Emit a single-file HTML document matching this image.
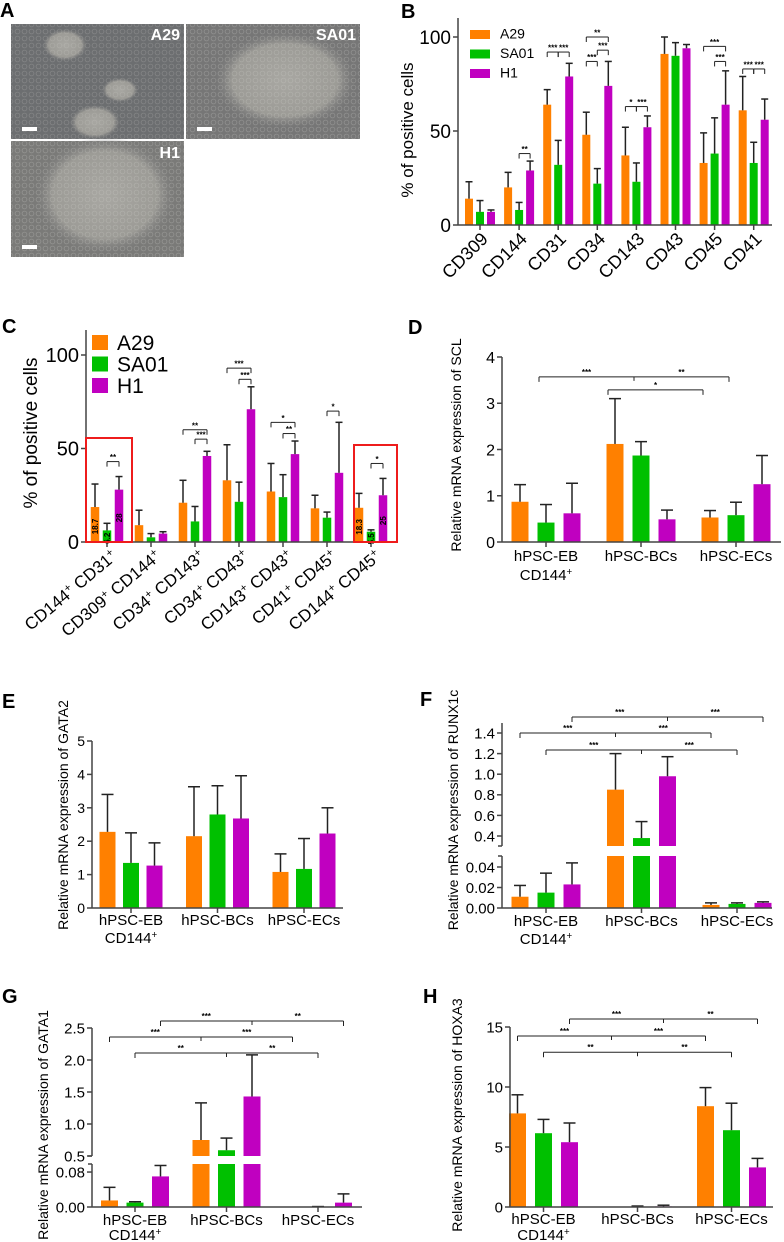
<!DOCTYPE html>
<html><head><meta charset="utf-8"><style>
html,body{margin:0;padding:0;background:#fff}
svg{display:block;font-family:"Liberation Sans",Arial,sans-serif}
</style></head><body>
<svg id="fig" width="784" height="1242" viewBox="0 0 784 1242" xmlns="http://www.w3.org/2000/svg">
<defs>
<radialGradient id="colony" cx="50%" cy="50%" r="50%"><stop offset="0" stop-color="#a8a7a2"/><stop offset="0.75" stop-color="#9c9b96"/><stop offset="1" stop-color="#808080" stop-opacity="0"/></radialGradient>
<pattern id="cells" width="7" height="7" patternUnits="userSpaceOnUse"><circle cx="3.5" cy="3.5" r="2.4" fill="none" stroke="#cfcec9" stroke-width="0.8" opacity="0.6"/></pattern>
</defs>
<g>
<text x="0" y="17" font-size="20" font-weight="bold">A</text>
<g>
<rect x="11" y="24" width="173" height="115" fill="#6c6e70"/>
<ellipse cx="65" cy="45" rx="22" ry="16" fill="url(#colony)"/><ellipse cx="120" cy="90" rx="18" ry="12" fill="url(#colony)"/><ellipse cx="95" cy="122" rx="25" ry="17" fill="url(#colony)"/>
<rect x="11" y="24" width="173" height="115" fill="url(#cells)" opacity="0.4"/>
<text x="180" y="40" font-size="16" font-weight="bold" fill="#fff" text-anchor="end">A29</text>
<rect x="22" y="127" width="15" height="4" fill="#fff"/></g>
<g>
<rect x="186" y="24" width="174" height="115" fill="#767676"/>
<ellipse cx="285" cy="80" rx="70" ry="48" fill="url(#colony)"/>
<rect x="186" y="24" width="174" height="115" fill="url(#cells)" opacity="0.5"/>
<text x="356" y="40" font-size="16" font-weight="bold" fill="#fff" text-anchor="end">SA01</text>
<rect x="197" y="127" width="15" height="4" fill="#fff"/></g>
<g>
<rect x="11" y="141" width="173" height="116" fill="#7a7a78"/>
<ellipse cx="105" cy="195" rx="70" ry="58" fill="url(#colony)"/>
<rect x="11" y="141" width="173" height="116" fill="url(#cells)" opacity="0.5"/>
<text x="180" y="158" font-size="16" font-weight="bold" fill="#fff" text-anchor="end">H1</text>
<rect x="22" y="245" width="15" height="4" fill="#fff"/></g>
</g>
</svg>
<script>
// ---------- DATA ----------
const bCats = ['CD309','CD144','CD31','CD34','CD143','CD43','CD45','CD41'];
const bA29 = [14,20,64,48,37,91,33,61];
const bSA01 = [7,8,32,22,23,90,38,33];
const bH1 = [7,29,79,74,52,94,64,56];
const bA29Err = [23,28,72,60,52,100,49,79];
const bSA01Err = [13,12,45,30,33,97,57,44];
const bH1Err = [8,34,86,87,58,96,82,67];
const bTicks = [0,50,100];

const cCats = [['CD144','CD31'],['CD309','CD144'],['CD34','CD143'],['CD34','CD43'],['CD143','CD43'],['CD41','CD45'],['CD144','CD45']];
const cA29 = [18.7,9,21,33,27,18,18.3];
const cSA01 = [6.2,2.5,11,21.5,24,13,5.5];
const cH1 = [28,4.5,46,71,47,37,25];
const cA29Err = [31,17,33,52,42,25,26];
const cSA01Err = [10,4.5,19,32,36,16,6.5];
const cH1Err = [35,5.5,48.5,83,54,64,34];
const cTicks = [0,50,100];

const qCats = ['hPSC-EB','hPSC-BCs','hPSC-ECs'];
const dA29 = [0.87,2.12,0.53], dSA01 = [0.42,1.87,0.58], dH1 = [0.62,0.49,1.25];
const dA29Err = [1.24,3.1,0.68], dSA01Err = [0.81,2.17,0.86], dH1Err = [1.27,0.69,1.87];
const dTicks = [0,1,2,3,4];

const eA29 = [2.28,2.15,1.08], eSA01 = [1.35,2.8,1.17], eH1 = [1.27,2.68,2.23];
const eA29Err = [3.4,3.63,1.62], eSA01Err = [2.25,3.66,2.08], eH1Err = [1.95,3.96,3.0];
const eTicks = [0,1,2,3,4,5];

const fA29 = [0.011,0.85,0.003], fSA01 = [0.015,0.38,0.004], fH1 = [0.023,0.98,0.005];
const fA29Err = [0.022,1.2,0.005], fSA01Err = [0.034,0.54,0.005], fH1Err = [0.044,1.17,0.006];
const fTicksLow = [0,0.02,0.04], fTicksHigh = [0.4,0.6,0.8,1.0,1.2,1.4];

const gA29 = [0.015,0.75,0], gSA01 = [0.01,0.59,0.0005], gH1 = [0.07,1.43,0.01];
const gA29Err = [0.045,1.33,0], gSA01Err = [0.012,0.78,0.001], gH1Err = [0.095,2.08,0.03];
const gTicksLow = [0,0.08], gTicksHigh = [0.5,1.0,1.5,2.0,2.5];

const hA29 = [7.8,0,8.4], hSA01 = [6.15,0.02,6.4], hH1 = [5.4,0.05,3.3];
const hA29Err = [9.35,0,9.95], hSA01Err = [7.3,0.08,8.65], hH1Err = [7.0,0.15,4.05];
const hTicks = [0,5,10,15];

const colors = ['#ff8000','#00c000','#c000c0'];
const seriesNames = ['A29','SA01','H1'];

// ---------- HELPERS ----------
const NS='http://www.w3.org/2000/svg';
const fig=document.getElementById('fig');
function mk(tag, attrs, name, parent){
  const el=document.createElementNS(NS,tag);
  for(const k in attrs) el.setAttribute(k,attrs[k]);
  
  
  (parent||fig).appendChild(el);
  return el;
}
function txt(x,y,s,size,name,parent,extra){
  const t=mk('text',Object.assign({x:x,y:y,'font-size':size},extra||{}),name,parent);
  t.textContent=s; return t;
}
function addSpan(t,s,sup){
  const a=document.createElementNS(NS,'tspan');
  if(sup){a.setAttribute('baseline-shift','super');a.setAttribute('font-size','65%');}
  a.textContent=s; t.appendChild(a);
}
function drawPanel(P){
  const g=mk('g',{},P.name);
  const X=(gi,bi)=>P.c0+gi*P.gs+(bi-1)*P.off;
  P.series.forEach((vals,si)=>{
    vals.forEach((v,gi)=>{
      const x=X(gi,si), yt=P.y(v), yb=P.y(0);
      mk('rect',{x:x-P.bw/2,y:Math.min(yt,yb),width:P.bw,height:Math.max(0.01,Math.abs(yb-yt)),fill:colors[si]},'bar-'+seriesNames[si].toLowerCase()+'-'+gi,g);
      const ye=P.y(P.errs[si][gi]);
      if(P.errs[si][gi]>v){
        mk('line',{x1:x,x2:x,y1:yt,y2:ye,stroke:'#222','stroke-width':1.5},'error-bar',g);
        mk('line',{x1:x-P.cap,x2:x+P.cap,y1:ye,y2:ye,stroke:'#222','stroke-width':1.5},'error-cap',g);
      }
    });
  });
  if(P.gap){
    mk('rect',{x:P.ax+1,y:P.gap[0],width:P.axEnd-P.ax,height:P.gap[1]-P.gap[0],fill:'#fff'},'axis-break-gap',g);
    mk('line',{x1:P.ax,x2:P.ax,y1:P.y(0),y2:P.gap[1],stroke:'#444','stroke-width':1.5},'y-axis-lower',g);
    mk('line',{x1:P.ax,x2:P.ax,y1:P.gap[0],y2:P.axTop,stroke:'#444','stroke-width':1.5},'y-axis-upper',g);
    mk('line',{x1:P.ax-4,x2:P.ax,y1:P.gap[1],y2:P.gap[1],stroke:'#444','stroke-width':1.5},'y-axis-break-mark',g);
    mk('line',{x1:P.ax-4,x2:P.ax,y1:P.gap[0],y2:P.gap[0],stroke:'#444','stroke-width':1.5},'y-axis-break-mark',g);
  } else {
    mk('line',{x1:P.ax,x2:P.ax,y1:P.y(0),y2:P.axTop,stroke:'#444','stroke-width':1.5},'y-axis',g);
  }
  mk('line',{x1:P.ax,x2:P.axEnd,y1:P.y(0),y2:P.y(0),stroke:'#444','stroke-width':1.5},'x-axis',g);
  P.ticks.forEach(t=>{
    const y=P.y(t);
    mk('line',{x1:P.ax-5,x2:P.ax,y1:y,y2:y,stroke:'#444','stroke-width':1.5},'y-tick',g);
    txt(P.ax-7,y+P.tf*0.36,P.fmt(t),P.tf,'y-tick-label',g,{'text-anchor':'end'});
  });
  for(let i=0;i<P.ng;i++){
    const x=P.c0+i*P.gs;
    mk('line',{x1:x,x2:x,y1:P.y(0),y2:P.y(0)+5,stroke:'#444','stroke-width':1.5},'x-tick',g);
  }
  return {g,X};
}
function bracket(g,x1,x2,y,label,mids){
  mk('line',{x1:x1,x2:x2,y1:y,y2:y,stroke:'#222','stroke-width':1},'significance-bracket',g);
  mk('line',{x1:x1,x2:x1,y1:y,y2:y+5,stroke:'#222','stroke-width':1},'bracket-end',g);
  mk('line',{x1:x2,x2:x2,y1:y,y2:y+5,stroke:'#222','stroke-width':1},'bracket-end',g);
  (mids||[]).forEach(m=>mk('line',{x1:m,x2:m,y1:y,y2:y+4,stroke:'#222','stroke-width':1},'bracket-mid',g));
  if(label) txt((x1+x2)/2,y-1.5,label,8,'significance-label',g,{'text-anchor':'middle','font-weight':'bold'});
}
function letter(x,y,s){ txt(x,y,s,20,'panel-label-'+s.toLowerCase(),fig,{'font-weight':'bold'}); }
function ylabel(x,y,s,size,name){ txt(0,0,s,size,name,fig,{'text-anchor':'middle',transform:'translate('+x+','+y+') rotate(-90)'}); }
function qxlabels(P,y1,y2){
  qCats.forEach((c,i)=>{
    const x=P.c0+i*P.gs;
    txt(x,y1,c,15,'x-label',fig,{'text-anchor':'middle'});
    if(i===0){const t=txt(x,y2,'',15,'x-label-line2',fig,{'text-anchor':'middle'});
      addSpan(t,'CD144',false); addSpan(t,'+',true);}
  });
}
function multi(r,P,bar,lvl,labels,shift){
  const xs=[0,1,2].slice(3-labels.length-1).map(gi=>r.X(gi,bar)+(shift||0));
  for(let k=0;k<labels.length;k++) txt((xs[k]+xs[k+1])/2,P.y(lvl)-2,labels[k],8,'significance-label',r.g,{'text-anchor':'middle','font-weight':'bold'});
  bracket(r.g,xs[0],xs[xs.length-1],P.y(lvl),'',xs.slice(1,-1));
}

// ---------- PANEL B ----------
letter(401,18,'B');
const PB={name:'panel-b',ax:458,axTop:18,axEnd:772,c0:480,gs:39.1,off:11,bw:8,cap:3.5,ng:8,tf:19,
  y:v=>225-v*1.88,ticks:bTicks,fmt:t=>String(t),series:[bA29,bSA01,bH1],errs:[bA29Err,bSA01Err,bH1Err]};
const rb=drawPanel(PB);
bCats.forEach((c,i)=>txt(0,0,c,18,'x-label',rb.g,{'text-anchor':'end',transform:'translate('+(PB.c0+i*PB.gs+9)+',240) rotate(-45)'}));
ylabel(413,130,'% of positive cells',17,'y-axis-title');
seriesNames.forEach((n,i)=>{mk('rect',{x:470,y:30+i*19.5,width:20,height:9,fill:colors[i]},'legend-swatch',rb.g);txt(500,38.5+i*19.5,n,14,'legend-label',rb.g);});
[[1,1,2,38,'**'],[2,0,1,92,'***'],[2,1,2,92,'***'],[3,0,2,100,'**'],[3,1,2,93,'***'],[3,0,1,87,'***'],[4,0,1,63,'*'],[4,1,2,63,'***'],[6,0,2,95,'***'],[6,1,2,87,'***'],[7,0,1,83,'***'],[7,1,2,83,'***']]
 .forEach(b=>bracket(rb.g,rb.X(b[0],b[1]),rb.X(b[0],b[2]),PB.y(b[3]),b[4]));

// ---------- PANEL C ----------
letter(2,333,'C');
const PC={name:'panel-c',ax:86,axTop:330,axEnd:397,c0:107,gs:44,off:12,bw:8.5,cap:3.5,ng:7,tf:20,
  y:v=>542-v*1.87,ticks:cTicks,fmt:t=>String(t),series:[cA29,cSA01,cH1],errs:[cA29Err,cSA01Err,cH1Err]};
const rc=drawPanel(PC);
ylabel(37,433,'% of positive cells',19,'y-axis-title');
seriesNames.forEach((n,i)=>{mk('rect',{x:92,y:335+i*21.5,width:16,height:15,fill:colors[i]},'legend-swatch',rc.g);txt(117,350+i*21.5,n,21,'legend-label',rc.g);});
cCats.forEach((c,i)=>{
  const t=txt(0,0,'',17,'x-label',rc.g,{'text-anchor':'end',transform:'translate('+(PC.c0+i*PC.gs+11)+',558) rotate(-40)'});
  addSpan(t,c[0],false); addSpan(t,'+',true); addSpan(t,' '+c[1],false); addSpan(t,'+',true);
});
[[0,0],[0,1],[0,2],[6,0],[6,1],[6,2]].forEach(([gi,si])=>{
  const v=[cA29,cSA01,cH1][si][gi];
  txt(0,0,String(v),8,'bar-value-label',rc.g,{'text-anchor':'middle','font-weight':'bold',transform:'translate('+(rc.X(gi,si)+3)+','+(PC.y(v/2)+2)+') rotate(-90)'});
});
[[0,1,2,43,'**'],[2,0,2,60,'**'],[2,1,2,55,'***'],[3,0,2,93,'***'],[3,1,2,87,'***'],[4,0,2,64,'*'],[4,1,2,58,'**'],[5,1,2,70,'*'],[6,1,2,42,'*']]
 .forEach(b=>bracket(rc.g,rc.X(b[0],b[1]),rc.X(b[0],b[2]),PC.y(b[3]),b[4]));
mk('rect',{x:86,y:438,width:46,height:104,fill:'none',stroke:'#ee1c1c','stroke-width':2},'highlight-box',rc.g);
mk('rect',{x:354,y:445,width:43,height:97,fill:'none',stroke:'#ee1c1c','stroke-width':2},'highlight-box',rc.g);

// ---------- PANEL D ----------
letter(408,334,'D');
const PD={name:'panel-d',ax:502,axTop:357,axEnd:781,c0:546,gs:95,off:26,bw:17,cap:6,ng:3,tf:16,
  y:v=>542-v*46.25,ticks:dTicks,fmt:t=>String(t),series:[dA29,dSA01,dH1],errs:[dA29Err,dSA01Err,dH1Err]};
const rd=drawPanel(PD);
ylabel(461,445,'Relative mRNA expression of SCL',14,'y-axis-title');
qxlabels(PD,561,580);
multi(rd,PD,1,3.57,['***','**'],-7);
multi(rd,PD,0,3.29,['*'],-7);

// ---------- PANEL E ----------
letter(2,708,'E');
const PE={name:'panel-e',ax:92,axTop:741,axEnd:343,c0:131,gs:86.5,off:23.5,bw:16,cap:6,ng:3,tf:14,
  y:v=>908-v*33.4,ticks:eTicks,fmt:t=>String(t),series:[eA29,eSA01,eH1],errs:[eA29Err,eSA01Err,eH1Err]};
drawPanel(PE);
ylabel(68,815,'Relative mRNA expression of GATA2',14,'y-axis-title');
qxlabels(PE,925,943);

// ---------- PANEL F ----------
letter(420,706,'F');
const fY=v=>v<=0.05?908-v*1025:836-(v-0.4)*103;
const PF={name:'panel-f',ax:502,axTop:723,axEnd:772,c0:546,gs:95.5,off:26,bw:17,cap:6,ng:3,tf:15,gap:[846,856],
  y:fY,ticks:fTicksLow.concat(fTicksHigh),fmt:t=>t<0.1?t.toFixed(2):t.toFixed(1),series:[fA29,fSA01,fH1],errs:[fA29Err,fSA01Err,fH1Err]};
const rf=drawPanel(PF);
ylabel(458,810,'Relative mRNA expression of RUNX1c',14,'y-axis-title');
qxlabels(PF,926,944);
multi(rf,PF,2,1.555,['***','***']);
multi(rf,PF,0,1.4,['***','***']);
multi(rf,PF,1,1.235,['***','***']);

// ---------- PANEL G ----------
letter(2,1003,'G');
const gY=v=>v<=0.1?1207-v*437:1156-(v-0.5)*64;
const PG={name:'panel-g',ax:92,axTop:1028,axEnd:362,c0:135,gs:91.5,off:25.5,bw:17,cap:6,ng:3,tf:15,gap:[1156,1164],
  y:gY,ticks:gTicksLow.concat(gTicksHigh),fmt:t=>t<0.1?t.toFixed(2):t.toFixed(1),series:[gA29,gSA01,gH1],errs:[gA29Err,gSA01Err,gH1Err]};
const rg=drawPanel(PG);
ylabel(48,1125,'Relative mRNA expression of GATA1',14,'y-axis-title');
qxlabels(PG,1225,1240);
multi(rg,PG,2,2.61,['***','**']);
multi(rg,PG,0,2.36,['***','***']);
multi(rg,PG,1,2.11,['**','**']);

// ---------- PANEL H ----------
letter(423,1003,'H');
const PH={name:'panel-h',ax:510,axTop:1027,axEnd:773,c0:543.5,gs:94,off:26,bw:17,cap:6,ng:3,tf:15,
  y:v=>1207-v*12,ticks:hTicks,fmt:t=>String(t),series:[hA29,hSA01,hH1],errs:[hA29Err,hSA01Err,hH1Err]};
const rh=drawPanel(PH);
ylabel(462,1115,'Relative mRNA expression of HOXA3',14,'y-axis-title');
qxlabels(PH,1224,1240);
multi(rh,PH,2,15.67,['***','**']);
multi(rh,PH,0,14.25,['***','***']);
multi(rh,PH,1,12.9,['**','**']);
</script>
</body></html>
